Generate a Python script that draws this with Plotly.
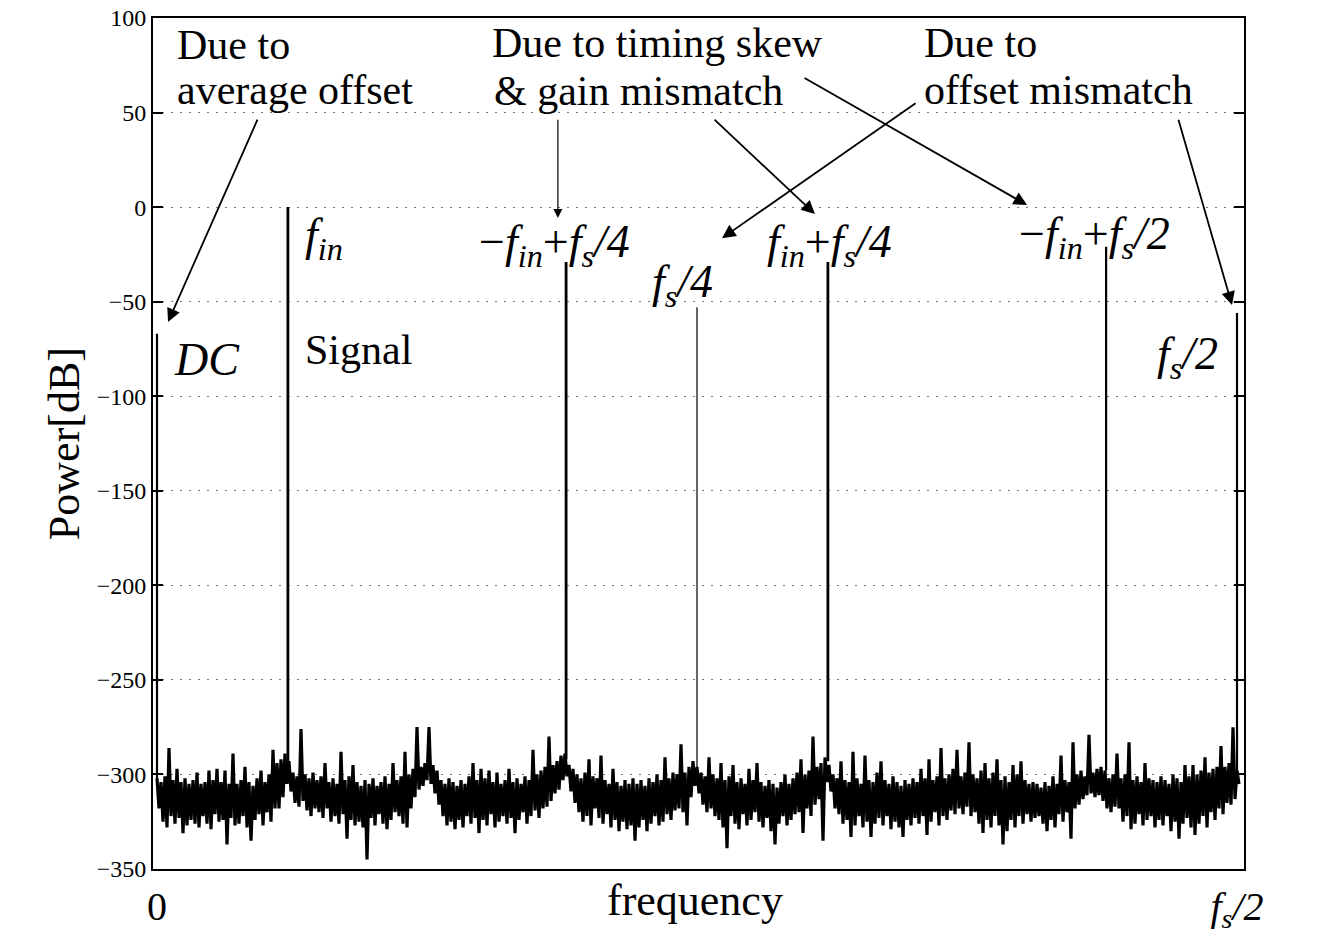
import plotly.graph_objects as go

# ---------------- data ----------------
# Noise floor: per-bin upper / lower excursion of the spectrum trace [dB]
N_BINS = 270  # bins from 0 to fs/2
noise_upper_db = [
    -302, -304, -301, -286, -303, -297, -304, -302, -305, -303,
    -299, -305, -304, -298, -303, -297, -304, -298, -305, -289,
    -305, -303, -296, -304, -306, -302, -298, -304, -300, -287,
    -294, -292, -289, -293, -299, -301, -276, -300, -302, -299,
    -303, -301, -294, -304, -302, -305, -288, -303, -301, -295,
    -304, -306, -303, -305, -302, -306, -304, -301, -305, -294,
    -303, -301, -288, -300, -297, -275, -296, -294, -275, -295,
    -298, -303, -305, -302, -304, -306, -303, -305, -301, -294,
    -303, -297, -302, -298, -304, -299, -305, -303, -297, -304,
    -302, -305, -301, -303, -287, -300, -298, -296, -280, -295,
    -293, -290, -289, -295, -297, -300, -302, -299, -292, -301,
    -302, -290, -303, -305, -297, -304, -306, -303, -305, -302,
    -305, -303, -306, -302, -304, -300, -303, -291, -302, -299,
    -300, -284, -299, -296, -293, -296, -299, -301, -291, -300,
    -302, -294, -303, -301, -295, -304, -302, -305, -297, -303,
    -294, -304, -306, -303, -305, -307, -304, -300, -305, -302,
    -299, -292, -300, -298, -280, -296, -294, -291, -295, -300,
    -302, -293, -303, -304, -288, -302, -305, -290, -303, -304,
    -299, -293, -303, -305, -301, -304, -306, -303, -305, -302,
    -304, -297, -302, -292, -303, -301, -286, -302, -300, -297,
    -287, -301, -299, -283, -300, -302, -298, -294, -302, -299,
    -292, -303, -301, -304, -295, -300, -293, -303, -305, -304,
    -305, -307, -304, -306, -301, -305, -290, -303, -304, -283,
    -300, -298, -301, -279, -299, -297, -296, -298, -302, -300,
    -289, -302, -300, -283, -303, -301, -304, -294, -302, -303,
    -304, -301, -303, -305, -300, -302, -304, -295, -301, -295,
    -300, -298, -291, -299, -297, -296, -285, -296, -294, -275,
    -298,
]
noise_lower_db = [
    -318, -325, -328, -322, -326, -323, -331, -327, -324, -326,
    -328, -322, -326, -329, -321, -325, -324, -337, -323, -327,
    -326, -322, -328, -335, -324, -321, -327, -320, -325, -318,
    -318, -312, -305, -309, -315, -317, -314, -319, -322, -318,
    -320, -323, -318, -325, -322, -326, -321, -334, -324, -327,
    -325, -328, -345, -323, -327, -321, -326, -329, -324, -320,
    -322, -326, -328, -318, -312, -308, -306, -303, -305, -310,
    -316, -322, -327, -325, -329, -324, -328, -322, -326, -323,
    -331, -324, -327, -321, -328, -325, -322, -326, -323, -331,
    -324, -320, -326, -322, -319, -323, -318, -317, -314, -310,
    -308, -303, -301, -309, -315, -320, -325, -322, -327, -318,
    -323, -326, -321, -328, -324, -330, -325, -329, -327, -335,
    -328, -324, -330, -326, -322, -327, -325, -321, -324, -319,
    -318, -320, -327, -312, -306, -310, -316, -320, -318, -322,
    -324, -328, -339, -322, -326, -329, -321, -327, -324, -320,
    -325, -328, -323, -330, -337, -326, -322, -327, -324, -321,
    -320, -331, -318, -322, -316, -313, -335, -304, -309, -318,
    -321, -326, -324, -333, -327, -322, -328, -325, -333, -326,
    -323, -327, -322, -329, -325, -328, -333, -324, -327, -323,
    -326, -322, -332, -325, -320, -327, -322, -324, -319, -321,
    -318, -321, -317, -322, -320, -326, -331, -324, -328, -322,
    -327, -337, -330, -324, -328, -322, -326, -321, -325, -323,
    -322, -326, -330, -324, -328, -321, -325, -320, -334, -318,
    -316, -313, -311, -310, -312, -311, -314, -318, -320, -317,
    -318, -325, -322, -329, -326, -321, -327, -324, -322, -328,
    -324, -327, -322, -330, -325, -334, -326, -323, -328, -332,
    -326, -322, -328, -320, -324, -318, -321, -315, -316, -313,
    -305,
]

# Tones (frequency in units of fs, level in dB)
tone_names = ["DC", "f_in", "-f_in+f_s/4", "f_s/4", "f_in+f_s/4", "-f_in+f_s/2", "f_s/2"]
tone_freq = [0.0, 0.0606, 0.1894, 0.25, 0.3106, 0.4394, 0.5]
tone_level_db = [-67, 0, -29, -53, -29, -21, -56]
tone_base_db = [-302, -295, -292, -296, -293, -298, -300]
tone_width = [2.2, 2.8, 2.8, 1.2, 2.8, 2.2, 2.2]

y_tick_vals = [-350, -300, -250, -200, -150, -100, -50, 0, 50, 100]
y_tick_text = ["\u2212350", "\u2212300", "\u2212250", "\u2212200", "\u2212150",
               "\u2212100", "\u221250", "0", "50", "100"]
x_tick_vals = [0, 0.5]
x_tick_text = ["0", "<i>f</i><sub><i>s</i></sub><i>/2</i>"]

FONT = "Liberation Serif"

# ---------------- figure ----------------
fig = go.Figure()

# noise floor as one continuous trace (upper/lower excursion per bin)
nx, ny = [], []
for i in range(len(noise_upper_db)):
    nx.append(i * 0.5 / N_BINS)
    ny.append(noise_upper_db[i])
    nx.append((i + 0.5) * 0.5 / N_BINS)
    ny.append(noise_lower_db[i])
fig.add_trace(go.Scatter(x=nx, y=ny, mode="lines",
                         line=dict(color="black", width=3.2), hoverinfo="skip"))

for f, lvl, base, w in zip(tone_freq, tone_level_db, tone_base_db, tone_width):
    fig.add_trace(go.Scatter(x=[f, f], y=[base, lvl], mode="lines",
                             line=dict(color="black", width=w), hoverinfo="skip"))

ann = []

def text(t, x, y, size, anchor="left", italic=False):
    if italic:
        t = "<i>" + t + "</i>"
    ann.append(dict(text=t, x=x, y=y, xref="x", yref="y", showarrow=False,
                    xanchor=anchor, yanchor="middle",
                    font=dict(family=FONT, size=size, color="black")))

text("Due to", 0.0083, 85.7, 42)
text("average offset", 0.0083, 61.9, 42)
text("Due to timing skew", 0.1542, 86.7, 42)
text("&amp; gain mismatch", 0.1551, 61.3, 42)
text("Due to", 0.3542, 86.7, 42)
text("offset mismatch", 0.3542, 61.9, 42)
text("DC", 0.0069, -80.4, 46, italic=True)
text("Signal", 0.0676, -75.6, 42)

fi = "<i>f</i><sub><i>in</i></sub>"
fs = "<i>f</i><sub><i>s</i></sub>"
text(fi, 0.0676, -16.4, 46)
text("\u2212" + fi + "+" + fs + "<i>/4</i>", 0.1481, -20.1, 46)
text(fs + "<i>/4</i>", 0.2282, -41.2, 46)
text(fi + "+" + fs + "<i>/4</i>", 0.2815, -20.1, 46)
text("\u2212" + fi + "+" + fs + "<i>/2</i>", 0.3981, -15.9, 46)
text(fs + "<i>/2</i>", 0.4620, -79.3, 46)

def arrow(x0, y0, x1, y1, w=1.8):
    ann.append(dict(text="", x=x1, y=y1, ax=x0, ay=y0, xref="x", yref="y",
                    axref="x", ayref="y", showarrow=True, arrowhead=2,
                    arrowsize=1.5, arrowwidth=w, arrowcolor="black", standoff=0))

arrow(0.0468, 47.0, 0.0051, -60.8)
arrow(0.1856, 47.0, 0.1856, -5.8, w=1.2)
arrow(0.2574, 47.0, 0.3046, -3.7)
arrow(0.3519, 55.5, 0.2616, -16.4)
arrow(0.2991, 68.7, 0.4028, 1.1)
arrow(0.4727, 47.0, 0.4977, -51.8)

# axis titles
ann.append(dict(text="frequency", x=0.497, y=-0.037, xref="paper", yref="paper",
                showarrow=False, xanchor="center", yanchor="middle",
                font=dict(family=FONT, size=44, color="black")))
ann.append(dict(text="Power[dB]", x=-0.081, y=0.5, xref="paper", yref="paper",
                showarrow=False, xanchor="center", yanchor="middle", textangle=-90,
                font=dict(family=FONT, size=44, color="black")))

fig.update_layout(
    width=1336, height=941,
    margin=dict(l=153, r=92, t=18, b=72, autoexpand=False),
    paper_bgcolor="white", plot_bgcolor="white",
    showlegend=False,
    annotations=ann,
    xaxis=dict(range=[-4 / 2160, 1087 / 2160], tickvals=x_tick_vals, ticktext=x_tick_text,
               showgrid=False, zeroline=False, ticks="", showline=True, mirror=True,
               linecolor="black", linewidth=2, ticklabelstandoff=1,
               tickfont=dict(family=FONT, size=40, color="black")),
    yaxis=dict(range=[-350, 100], tickvals=y_tick_vals, ticktext=y_tick_text,
               showgrid=True, gridcolor="#777", gridwidth=1, griddash="2px,7px",
               zeroline=False, ticks="inside", ticklen=10, tickwidth=1.5, tickcolor="black",
               showline=True, mirror="allticks", linecolor="black", linewidth=2,
               tickfont=dict(family=FONT, size=24, color="black")),
)

fig.write_html("out.html")
